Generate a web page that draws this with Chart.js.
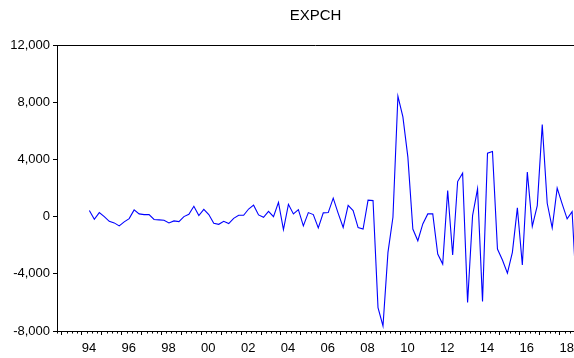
<!DOCTYPE html>
<html>
<head>
<meta charset="utf-8">
<script src="https://cdn.jsdelivr.net/npm/chart.js@4/dist/chart.umd.min.js"></script>
<style>
  html, body { margin: 0; padding: 0; background: #ffffff; }
  #wrap { width: 574px; height: 358px; position: relative; }
</style>
</head>
<body>
<div id="wrap"><canvas id="c" width="574" height="358"></canvas></div>
<script>
// ---- data (quarterly, first observation 1994Q2) ----
const seriesName = "EXPCH";
const startYear = 1994;
const startQuarter = 2;
const expch = [
  420, -190, 280, 0, -330, -440, -650, -370, -140, 470,
  190, 140, 140, -200, -230, -260, -440, -300, -350, 0,
  160, 720, 70, 510, 140, -470, -540, -330, -490, -120,
  90, 90, 530, 800, 120, -50, 370, 0, 1000, -910,
  860, 190, 490, -650, 280, 140, -790, 260, 280, 1290,
  230, -760, 780, 420, -770, -870, 1150, 1120, -6370, -7650,
  -2500, -50, 8420, 6970, 4160, -870, -1690, -510, 190, 190,
  -2620, -3320, 1820, -2680, 2450, 3040, -6010, 70, 1940, -5940,
  4440, 4560, -2270, -3040, -3950, -2500, 610, -3390, 3110, -680,
  770, 6430, 930, -790, 1990, 890, -160, 350, -6100
];
const yTickValues = [-8000, -4000, 0, 4000, 8000, 12000];
const xTickYears = [1993, 1994, 1995, 1996, 1997, 1998, 1999, 2000, 2001, 2002, 2003, 2004, 2005,
                    2006, 2007, 2008, 2009, 2010, 2011, 2012, 2013, 2014, 2015, 2016, 2017, 2018];
const xLabelYears = [1994, 1996, 1998, 2000, 2002, 2004, 2006, 2008, 2010, 2012, 2014, 2016, 2018];

const points = expch.map((v, i) => ({
  x: startYear + (startQuarter - 1 + i + 0.5) / 4,
  y: v
}));

const FONT = "'Liberation Sans', Arial, Helvetica, sans-serif";

const framePlugin = {
  id: 'frame',
  afterDraw(chart) {
    const ctx = chart.ctx;
    const a = chart.chartArea;
    const xs = chart.scales.x;
    ctx.save();
    ctx.strokeStyle = '#000';
    ctx.lineWidth = 1;
    // top frame line
    ctx.beginPath();
    ctx.moveTo(a.left, Math.round(a.top) + 0.5);
    ctx.lineTo(a.right, Math.round(a.top) + 0.5);
    ctx.stroke();
    // minor (quarterly) ticks
    ctx.beginPath();
    const y0 = Math.round(a.bottom) + 0.5;
    for (let q = Math.ceil(xs.min * 4); q <= Math.floor(xs.max * 4); q++) {
      if (q % 4 === 0) continue;
      const px = Math.round(xs.getPixelForValue(q / 4)) + 0.5;
      ctx.moveTo(px, y0);
      ctx.lineTo(px, y0 + 2);
    }
    ctx.stroke();
    ctx.restore();
  }
};

new Chart(document.getElementById('c'), {
  type: 'line',
  data: {
    datasets: [{
      label: seriesName,
      data: points,
      borderColor: '#0000ff',
      borderWidth: 1.1,
      pointRadius: 0,
      tension: 0,
      fill: false
    }]
  },
  options: {
    responsive: false,
    animation: false,
    devicePixelRatio: 1,
    layout: { padding: { left: 0, right: 0, top: 0, bottom: 0 } },
    plugins: {
      legend: { display: false },
      tooltip: { enabled: false },
      title: {
        display: true,
        text: seriesName,
        fullSize: false,
        color: '#000',
        font: { family: FONT, size: 15, weight: 'normal', lineHeight: 1.2 },
        padding: { top: 7, bottom: 20 }
      }
    },
    scales: {
      x: {
        type: 'linear',
        min: 1992.75,
        max: 2018.72,
        afterBuildTicks(scale) { scale.ticks = xTickYears.map(v => ({ value: v })); },
        afterFit(scale) { scale.height = 27; },
        ticks: {
          autoSkip: false,
          maxRotation: 0,
          minRotation: 0,
          labelOffset: 7,
          padding: 6,
          color: '#000',
          font: { family: FONT, size: 13 },
          callback: (v) => xLabelYears.includes(v) ? String(v % 100).padStart(2, '0') : ''
        },
        grid: { display: true, drawOnChartArea: false, drawTicks: true, tickLength: 4, color: '#000', tickColor: '#000' },
        border: { display: true, color: '#000', width: 1 }
      },
      y: {
        type: 'linear',
        min: -8000,
        max: 12000,
        afterBuildTicks(scale) { scale.ticks = yTickValues.map(v => ({ value: v })); },
        afterFit(scale) { scale.width = 57; },
        ticks: {
          color: '#000',
          padding: 3,
          font: { family: FONT, size: 13 },
          callback: (v) => v.toLocaleString('en-US')
        },
        grid: { display: true, drawOnChartArea: false, drawTicks: true, tickLength: 4, color: '#000', tickColor: '#000' },
        border: { display: true, color: '#000', width: 1 }
      }
    }
  },
  plugins: [framePlugin]
});
</script>
</body>
</html>
